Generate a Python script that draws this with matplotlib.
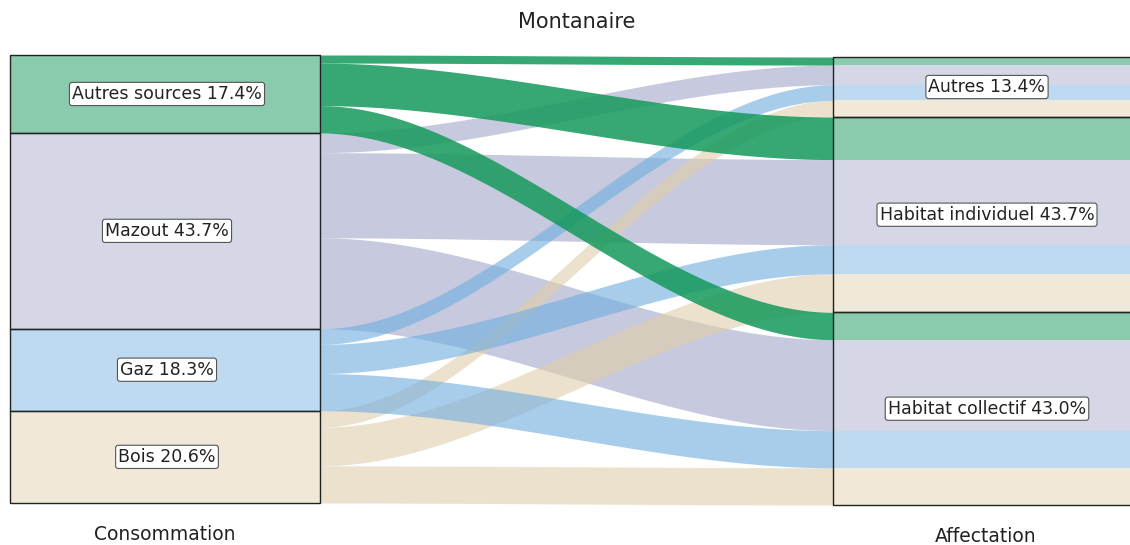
import numpy as np
import matplotlib.pyplot as plt
from matplotlib.patches import Rectangle

sources = ['Autres sources', 'Mazout', 'Gaz', 'Bois']
source_pct = [17.4, 43.7, 18.3, 20.6]
targets = ['Autres', 'Habitat individuel', 'Habitat collectif']
target_pct = [13.4, 43.7, 43.0]
# part of total (%) going from each source (rows) to each target (columns)
flow_autres_sources = [1.8, 9.5, 6.1]
flow_mazout = [4.4, 19.0, 20.3]
flow_gaz = [3.5, 6.5, 8.3]
flow_bois = [3.7, 8.6, 8.3]

flows = np.array([flow_autres_sources, flow_mazout, flow_gaz, flow_bois])
colors = ['#14995b', '#a3a7c8', '#6eaddf', '#dfceaa']
flow_alpha = [0.85, 0.6, 0.6, 0.6]
node_alpha = [0.5, 0.45, 0.45, 0.45]

# layout in pixels
scale = 4.48
left_top = 55
right_top = 57
x_left0, x_left1 = 10, 320
x_right0, x_right1 = 833, 1140

fig = plt.figure(figsize=(11.3, 5.45), dpi=100)
ax = fig.add_axes([0, 0, 1, 1])
ax.set_xlim(0, 1130)
ax.set_ylim(545, 0)
ax.axis('off')

def smooth(t):
    return 3 * t ** 2 - 2 * t ** 3

xs = np.linspace(x_left1, x_right0, 200)
t = smooth((xs - x_left1) / (x_right0 - x_left1))

# start positions of each flow on the left (ordered by target inside a source)
src_start = np.zeros(flows.shape)
y = left_top
for i in range(flows.shape[0]):
    for j in range(flows.shape[1]):
        src_start[i, j] = y
        y += flows[i, j] * scale

# positions on the right (ordered by source inside a target)
tgt_start = np.zeros(flows.shape)
y = right_top
for j in range(flows.shape[1]):
    for i in range(flows.shape[0]):
        tgt_start[i, j] = y
        y += flows[i, j] * scale

draw_order = [1, 3, 2, 0]
for i in draw_order:
    for j in range(flows.shape[1]):
        h = flows[i, j] * scale
        y0 = src_start[i, j]
        y1 = tgt_start[i, j]
        top = y0 + (y1 - y0) * t
        ax.fill_between(xs, top, top + h, color=colors[i], alpha=flow_alpha[i], lw=0)
        # stripe inside the right box
        ax.fill_between([x_right0, x_right1], y1, y1 + h, color=colors[i], alpha=node_alpha[i], lw=0)

label_box = dict(boxstyle='round,pad=0.15', facecolor='white', edgecolor='#555555', lw=0.8)

# left nodes
y = left_top
for i, name in enumerate(sources):
    h = flows[i].sum() * scale
    ax.add_patch(Rectangle((x_left0, y), x_left1 - x_left0, h, facecolor=colors[i],
                           alpha=node_alpha[i], lw=0))
    ax.add_patch(Rectangle((x_left0, y), x_left1 - x_left0, h, facecolor='none',
                           edgecolor='#222222', lw=1))
    ax.text((x_left0 + x_left1) / 2 + 2, y + h / 2, '%s %.1f%%' % (name, source_pct[i]),
            ha='center', va='center', fontsize=12.5, color='#222222', bbox=label_box)
    y += h

# right nodes
y = right_top
for j, name in enumerate(targets):
    h = flows[:, j].sum() * scale
    ax.add_patch(Rectangle((x_right0, y), x_right1 - x_right0, h, facecolor='none',
                           edgecolor='#222222', lw=1))
    ax.text(987, y + h / 2, '%s %.1f%%' % (name, target_pct[j]),
            ha='center', va='center', fontsize=12.5, color='#222222', bbox=label_box)
    y += h

ax.text(577, 22, 'Montanaire', ha='center', va='center', fontsize=15, color='#222222')
ax.text(165, 534, 'Consommation', ha='center', va='center', fontsize=13.5, color='#222222')
ax.text(986, 537, 'Affectation', ha='center', va='center', fontsize=13.5, color='#222222')

fig.savefig('out.png', dpi=100)
